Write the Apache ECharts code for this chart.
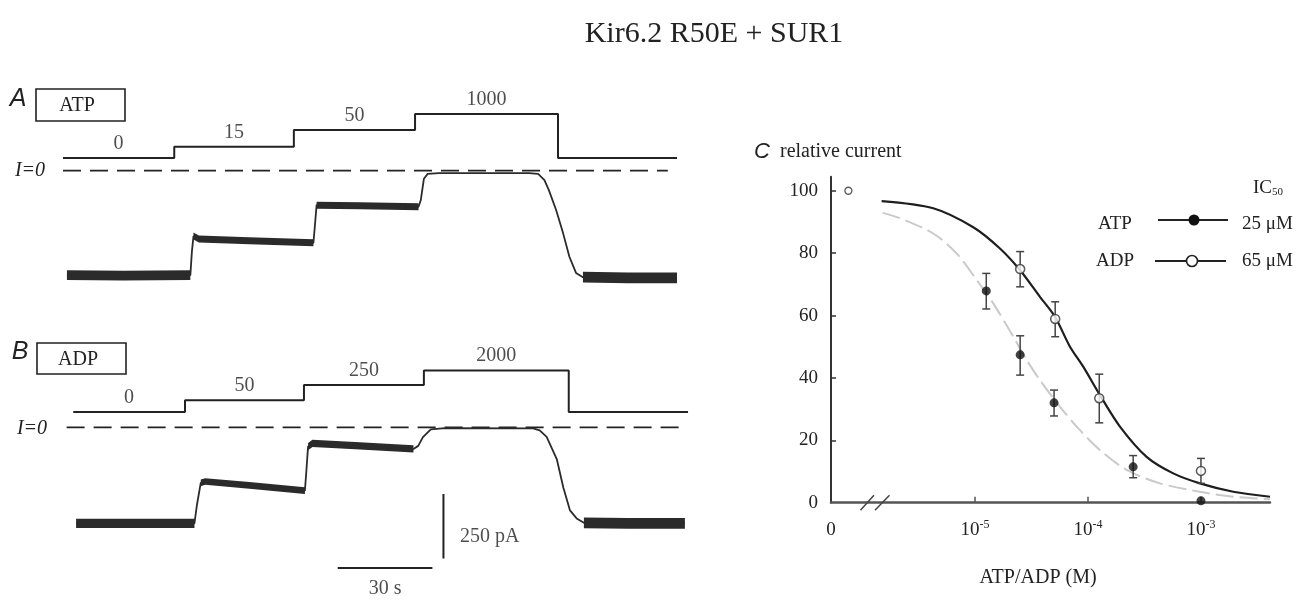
<!DOCTYPE html>
<html>
<head>
<meta charset="utf-8">
<script src="https://cdn.jsdelivr.net/npm/echarts@6/dist/echarts.min.js"></script>
<style>
  html, body { margin: 0; padding: 0; background: #fff; }
  #chart { width: 1310px; height: 608px; }
</style>
</head>
<body>
<div id="chart"></div>
<script>
// ---- panel A (ATP) : time in s, current in pA ----
const cmdA = [[0.95, 47], [36.2, 89], [74.1, 151], [112.5, 211], [157.8, 47], [195.5, 47]];
const concA = ["0", "15", "50", "1000"];
const traceA = [
  [2.2, -388], [20, -390], [41.3, -388], [41.8, -300], [42.3, -243], [44, -254], [60, -260], [80.3, -268],
  [80.8, -200], [81.3, -128], [95, -130], [113.6, -134], [114.3, -110], [115.3, -30], [116.5, -12],
  [120, -9], [148.6, -9], [151.5, -12], [153.5, -35], [154.9, -72], [157.2, -146], [159.4, -232],
  [161.4, -320], [163.5, -380], [165.7, -396], [180, -398], [195.5, -398]
];
// noisy stretches: [from s, to s, peak-to-peak noise pA]
const noiseA = [[2.2, 41.3, 36], [42.3, 80.3, 26], [81.3, 113.6, 26], [165.7, 195.5, 40]];
const zeroA = [[0.95, 0], [192.6, 0]];

// ---- panel B (ADP) ----
const cmdB = [[4.2, 59.5], [39.6, 105], [77.3, 163.6], [115.3, 220.4], [161.2, 59.5], [199, 59.5]];
const concB = ["0", "50", "250", "2000"];
const traceB = [
  [5.1, -372], [25, -372], [42.6, -372], [43.4, -300], [44.6, -215], [46, -210], [60, -225], [77.6, -245],
  [78.0, -180], [78.6, -75], [80, -62], [95, -72], [112, -84], [113.5, -72], [115, -38], [117.5, -8],
  [122, -3], [149.9, -4], [152, -12], [154.2, -37], [157.4, -123], [159.5, -234], [161.6, -322],
  [163.7, -353], [166, -370], [180, -372], [198, -372]
];
const noiseB = [[5.1, 42.6, 36], [44.6, 77.6, 26], [78.6, 112, 28], [166, 198, 42]];
const zeroB = [[2.1, 0], [198.4, 0]];

// scale bars (30 s, 250 pA)
const barT = 30, barI = 250;

// ---- panel C : x = log10 concentration (M), y = relative current (%) ----
const ctrl = [[-6.12, 100]];
// [log10 conc, mean, lower, upper]
const atpPts = [[-4.90, 67.9, 62.1, 73.5], [-4.60, 47.4, 40.9, 53.5], [-4.30, 32.0, 27.8, 36.1], [-3.60, 11.5, 8.0, 15.1], [-3.00, 0.6, 0.6, 0.6]];
const adpPts = [[-4.60, 74.9, 69.2, 80.5], [-4.29, 58.9, 53.2, 64.4], [-3.90, 33.5, 25.6, 41.2], [-3.00, 10.2, 6.2, 14.2]];
const adpFit = [[-5.826, 96.7], [-5.369, 94.4], [-5.015, 88.3], [-4.779, 81.5], [-4.602, 74.6], [-4.425, 66.0], [-4.292, 59.6],
  [-4.159, 50.0], [-4.042, 43.6], [-3.894, 34.5], [-3.717, 24.4], [-3.481, 14.7], [-3.245, 9.4], [-3.009, 6.2], [-2.714, 3.5], [-2.389, 1.9]];
const atpFit = [[-5.817, 92.9], [-5.664, 91.2], [-5.369, 86.3], [-5.162, 79.9], [-4.985, 71.4], [-4.838, 63.9], [-4.661, 53.2],
  [-4.542, 45.7], [-4.425, 39.3], [-4.248, 30.8], [-4.100, 24.4], [-3.894, 16.9], [-3.658, 10.5], [-3.363, 6.2], [-3.009, 3.5], [-2.714, 1.9], [-2.389, 1.1]];
const xTicks = [-5, -4, -3];
const yTicks = [0, 20, 40, 60, 80, 100];
const ic50 = { ATP: "25 μM", ADP: "65 μM" };

const serif = "'Liberation Serif', 'DejaVu Serif', serif";
const sans = "'Liberation Sans', Arial, sans-serif";
const ink = "#222";
const xMin = -6.274, xMax = -2.389;

function stepLabels(cmd, names) {
  return names.map((n, i) => [(cmd[i][0] + cmd[i + 1][0]) / 2, cmd[i][1], n]);
}

function bandRenderer(trace) {
  return function (params, api) {
    const t0 = api.value(0), t1 = api.value(1), amp = api.value(2);
    const pts = trace.filter(p => p[0] >= t0 && p[0] <= t1);
    const up = pts.map(p => api.coord([p[0], p[1] + amp / 2]));
    const lo = pts.slice().reverse().map(p => api.coord([p[0], p[1] - amp / 2]));
    return { type: "polygon", shape: { points: up.concat(lo) }, style: { fill: "#2b2b2b" } };
  };
}

function errorBar(params, api) {
  const x = api.value(0);
  const a = api.coord([x, api.value(2)]);
  const b = api.coord([x, api.value(3)]);
  const w = 4, st = { stroke: "#444", lineWidth: 1.5 };
  if (Math.abs(a[1] - b[1]) < 1) return null;
  return {
    type: "group", children: [
      { type: "line", shape: { x1: a[0], y1: a[1], x2: b[0], y2: b[1] }, style: st },
      { type: "line", shape: { x1: a[0] - w, y1: a[1], x2: a[0] + w, y2: a[1] }, style: st },
      { type: "line", shape: { x1: b[0] - w, y1: b[1], x2: b[0] + w, y2: b[1] }, style: st }
    ]
  };
}

function breakMark(params, api) {
  const p = api.coord([api.value(0), api.value(1)]);
  const st = { stroke: "#444", lineWidth: 1.5 };
  return {
    type: "group", children: [
      { type: "line", shape: { x1: p[0] - 14.5, y1: p[1] + 7.5, x2: p[0] - 1, y2: p[1] - 7.5 }, style: st },
      { type: "line", shape: { x1: p[0], y1: p[1] + 7.5, x2: p[0] + 14.5, y2: p[1] - 7.5 }, style: st }
    ]
  };
}

const hidden = { show: false };
const textLabel = (pos, dist) => ({
  show: true, position: pos, distance: dist, formatter: p => p.value[2],
  fontFamily: serif, fontSize: 20, color: ink
});

function tracePanel(idx, cmd, conc, trace, noise, zero) {
  return [
    { type: "line", xAxisIndex: idx, yAxisIndex: idx, data: cmd, step: "end", showSymbol: false,
      lineStyle: { color: ink, width: 2 } },
    { type: "scatter", xAxisIndex: idx, yAxisIndex: idx, data: stepLabels(cmd, conc), symbolSize: 1,
      itemStyle: { color: "rgba(0,0,0,0)" }, label: textLabel("top", 4) },
    { type: "line", xAxisIndex: idx, yAxisIndex: idx, data: zero, showSymbol: false,
      lineStyle: { color: ink, width: 1.8, type: [18, 9] } },
    { type: "line", xAxisIndex: idx, yAxisIndex: idx, data: trace, showSymbol: false,
      lineStyle: { color: "#2b2b2b", width: 1.8 } },
    { type: "custom", xAxisIndex: idx, yAxisIndex: idx, data: noise, renderItem: bandRenderer(trace),
      encode: { x: [0, 1], y: 2 } }
  ];
}

const chart = echarts.init(document.getElementById("chart"));
chart.setOption({
  animation: false,
  backgroundColor: "#fff",
  grid: [
    { left: 60, top: 103.45, width: 631.2, height: 188.3 },
    { left: 60, top: 362.75, width: 631.2, height: 255.55 },
    { left: 831, top: 176.7, width: 439, height: 326 }
  ],
  xAxis: [
    { type: "value", gridIndex: 0, min: 0, max: 200, show: false },
    { type: "value", gridIndex: 1, min: 0, max: 200, show: false },
    {
      type: "value", gridIndex: 2, min: xMin, max: xMax,
      axisLine: { show: true, onZero: false, lineStyle: { color: "#555", width: 2.5 } },
      axisTick: { show: true, inside: true, length: 6, customValues: xTicks, lineStyle: { color: "#555", width: 1.5 } },
      splitLine: hidden,
      axisLabel: {
        customValues: [xMin].concat(xTicks), margin: 16, color: ink,
        formatter: v => Math.abs(v - xMin) < 1e-6 ? "{n|0}" : "{n|10}{s|" + v + "}",
        rich: {
          n: { fontFamily: serif, fontSize: 19, lineHeight: 22, color: ink },
          s: { fontFamily: serif, fontSize: 12, lineHeight: 12, verticalAlign: "top", color: ink }
        }
      }
    }
  ],
  yAxis: [
    { type: "value", gridIndex: 0, min: -450, max: 250, show: false },
    { type: "value", gridIndex: 1, min: -700, max: 250, show: false },
    {
      type: "value", gridIndex: 2, min: 0, max: 104.5, interval: 20,
      axisLine: { show: true, onZero: false, lineStyle: { color: "#333", width: 2 } },
      axisTick: { show: true, inside: true, length: 5, customValues: yTicks.slice(1), lineStyle: { color: "#333", width: 1.5 } },
      splitLine: hidden,
      axisLabel: { customValues: yTicks, margin: 13, fontFamily: serif, fontSize: 19, color: ink }
    }
  ],
  series: [
    ...tracePanel(0, cmdA, concA, traceA, noiseA, zeroA),
    ...tracePanel(1, cmdB, concB, traceB, noiseB, zeroB),
    // scale bars
    { type: "line", xAxisIndex: 1, yAxisIndex: 1, showSymbol: false, lineStyle: { color: ink, width: 2 },
      data: [[88, -545], [88 + barT, -545]] },
    { type: "line", xAxisIndex: 1, yAxisIndex: 1, showSymbol: false, lineStyle: { color: ink, width: 2 },
      data: [[121.5, -258], [121.5, -258 - barI]] },
    { type: "scatter", xAxisIndex: 1, yAxisIndex: 1, symbolSize: 1, itemStyle: { color: "rgba(0,0,0,0)" },
      data: [[88 + barT / 2, -545, barT + " s"]], label: textLabel("bottom", 10) },
    { type: "scatter", xAxisIndex: 1, yAxisIndex: 1, symbolSize: 1, itemStyle: { color: "rgba(0,0,0,0)" },
      data: [[121.5, -425, barI + " pA"]], label: textLabel("right", 16) },
    // panel C
    { type: "custom", xAxisIndex: 2, yAxisIndex: 2, data: [[-5.885, 0]], renderItem: breakMark, clip: false, z: 3 },
    { name: "ATP fit", type: "line", xAxisIndex: 2, yAxisIndex: 2, data: atpFit, smooth: 0.3, showSymbol: false,
      lineStyle: { color: "#cacaca", width: 2, type: [18, 6] }, z: 2 },
    { name: "ADP fit", type: "line", xAxisIndex: 2, yAxisIndex: 2, data: adpFit, smooth: 0.3, showSymbol: false,
      lineStyle: { color: "#1e1e1e", width: 2.2 }, z: 2 },
    { type: "custom", xAxisIndex: 2, yAxisIndex: 2, data: atpPts.concat(adpPts), renderItem: errorBar,
      encode: { x: 0, y: [2, 3] }, z: 3 },
    { name: "ATP", type: "scatter", xAxisIndex: 2, yAxisIndex: 2, data: atpPts.map(p => [p[0], p[1]]),
      symbolSize: 9, itemStyle: { color: "#111" }, z: 4 },
    { name: "ADP", type: "scatter", xAxisIndex: 2, yAxisIndex: 2, data: adpPts.map(p => [p[0], p[1]]),
      symbolSize: 9, itemStyle: { color: "#fff", borderColor: "#333", borderWidth: 1.5 }, z: 4 },
    { name: "control", type: "scatter", xAxisIndex: 2, yAxisIndex: 2, data: ctrl,
      symbolSize: 7, itemStyle: { color: "#fff", borderColor: "#333", borderWidth: 1.3 }, z: 4 }
  ],
  graphic: [
    { type: "text", style: { x: 714, y: 34, text: "Kir6.2 R50E + SUR1", fontFamily: serif, fontSize: 30, fill: ink, align: "center", verticalAlign: "middle" } },
    // panel A header
    { type: "text", style: { x: 18, y: 99, text: "A", fontFamily: sans, fontStyle: "italic", fontSize: 25, fill: ink, align: "center", verticalAlign: "middle" } },
    { type: "rect", shape: { x: 36, y: 89, width: 89, height: 32 }, style: { fill: "none", stroke: ink, lineWidth: 1.6 } },
    { type: "text", style: { x: 77, y: 106, text: "ATP", fontFamily: serif, fontSize: 20, fill: ink, align: "center", verticalAlign: "middle" } },
    { type: "text", style: { x: 30, y: 171, text: "I=0", fontFamily: serif, fontStyle: "italic", fontSize: 20, fill: ink, align: "center", verticalAlign: "middle" } },
    // panel B header
    { type: "text", style: { x: 20, y: 352, text: "B", fontFamily: sans, fontStyle: "italic", fontSize: 25, fill: ink, align: "center", verticalAlign: "middle" } },
    { type: "rect", shape: { x: 37, y: 343, width: 89, height: 31 }, style: { fill: "none", stroke: ink, lineWidth: 1.6 } },
    { type: "text", style: { x: 78, y: 360, text: "ADP", fontFamily: serif, fontSize: 20, fill: ink, align: "center", verticalAlign: "middle" } },
    { type: "text", style: { x: 32, y: 429, text: "I=0", fontFamily: serif, fontStyle: "italic", fontSize: 20, fill: ink, align: "center", verticalAlign: "middle" } },
    // panel C labels
    { type: "text", style: { x: 762, y: 152, text: "C", fontFamily: sans, fontStyle: "italic", fontSize: 22, fill: ink, align: "center", verticalAlign: "middle" } },
    { type: "text", style: { x: 780, y: 152, text: "relative current", fontFamily: serif, fontSize: 20, fill: ink, align: "left", verticalAlign: "middle" } },
    { type: "text", style: { x: 1038, y: 578, text: "ATP/ADP (M)", fontFamily: serif, fontSize: 20, fill: ink, align: "center", verticalAlign: "middle" } },
    // legend
    { type: "text", style: { x: 1268, y: 188, text: "IC{s|50}", fontFamily: serif, fontSize: 19, fill: ink, align: "center", verticalAlign: "middle",
      rich: { s: { fontFamily: serif, fontSize: 11, lineHeight: 10, verticalAlign: "bottom", fill: ink } } } },
    { type: "text", style: { x: 1115, y: 224, text: "ATP", fontFamily: serif, fontSize: 19, fill: ink, align: "center", verticalAlign: "middle" } },
    { type: "line", shape: { x1: 1158, y1: 220, x2: 1228, y2: 220 }, style: { stroke: ink, lineWidth: 1.8 } },
    { type: "circle", shape: { cx: 1194, cy: 220, r: 5.5 }, style: { fill: "#111" } },
    { type: "text", style: { x: 1242, y: 224, text: ic50.ATP, fontFamily: serif, fontSize: 19, fill: ink, align: "left", verticalAlign: "middle" } },
    { type: "text", style: { x: 1115, y: 261, text: "ADP", fontFamily: serif, fontSize: 19, fill: ink, align: "center", verticalAlign: "middle" } },
    { type: "line", shape: { x1: 1155, y1: 261, x2: 1226, y2: 261 }, style: { stroke: ink, lineWidth: 1.8 } },
    { type: "circle", shape: { cx: 1192, cy: 261, r: 5.5 }, style: { fill: "#fff", stroke: ink, lineWidth: 1.6 } },
    { type: "text", style: { x: 1242, y: 261, text: ic50.ADP, fontFamily: serif, fontSize: 19, fill: ink, align: "left", verticalAlign: "middle" } }
  ]
});
</script>
</body>
</html>
